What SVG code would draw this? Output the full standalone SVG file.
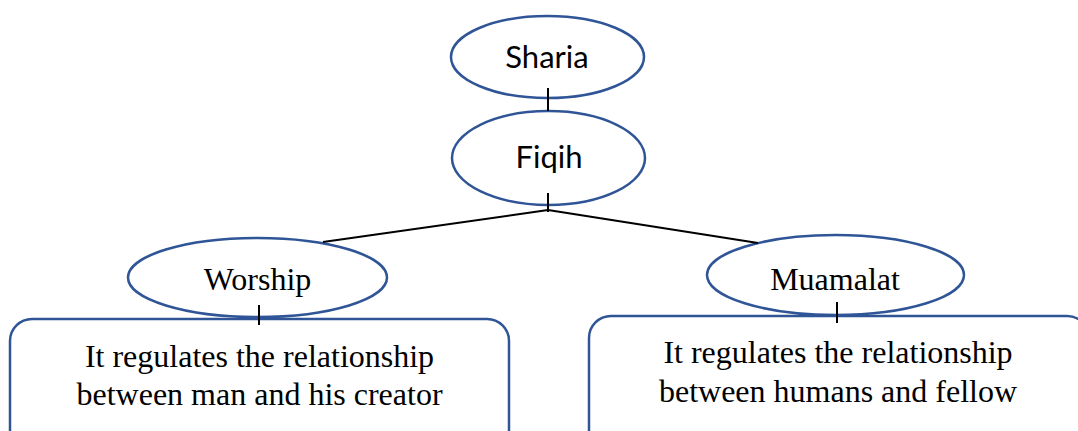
<svg xmlns="http://www.w3.org/2000/svg" width="1078" height="431" viewBox="0 0 1078 431">
<style>
.shape{fill:#fff;stroke:#2F5597;stroke-width:2.5}
.con{stroke:#000;stroke-width:2;fill:none}
.sans{font-family:Lato,"Open Sans","Liberation Sans",sans-serif;font-size:31px;fill:#000;text-anchor:middle}
.serif{font-family:"Liberation Serif","Times New Roman",serif;font-size:32px;fill:#000;text-anchor:middle}
</style>
<rect width="1078" height="431" fill="#fff"/>
<g id="box-worship">
<rect class="shape" x="10" y="319" width="499" height="140" rx="22"/>
<text class="serif" x="259.5" y="367">It regulates the relationship</text>
<text class="serif" x="259.5" y="405">between man and his creator</text>
</g>
<g id="box-muamalat">
<rect class="shape" x="589" y="316" width="500" height="140" rx="22"/>
<text class="serif" x="838" y="363">It regulates the relationship</text>
<text class="serif" x="838" y="402">between humans and fellow</text>
</g>
<g id="sharia">
<ellipse class="shape" cx="547.5" cy="57" rx="96.5" ry="41"/>
<text class="sans" x="547" y="68">Sharia</text>
</g>
<g id="fiqih">
<ellipse class="shape" cx="548.5" cy="158" rx="96.5" ry="47"/>
<text class="sans" x="549" y="168">Fiqih</text>
</g>
<g id="worship">
<ellipse class="shape" cx="257.5" cy="277.5" rx="129.5" ry="39.5"/>
<text class="serif" x="257.5" y="290">Worship</text>
</g>
<g id="muamalat">
<ellipse class="shape" cx="835.5" cy="275" rx="128.5" ry="40"/>
<text class="serif" x="835" y="290">Muamalat</text>
</g>
<g id="connectors">
<line class="con" x1="548" y1="88" x2="548" y2="111"/>
<line class="con" x1="548" y1="193" x2="548" y2="212"/>
<line class="con" x1="548" y1="210" x2="323" y2="242"/>
<line class="con" x1="548" y1="210" x2="758" y2="243"/>
<line class="con" x1="259" y1="305" x2="259" y2="325"/>
<line class="con" x1="837" y1="302" x2="837" y2="323"/>
</g>
</svg>
